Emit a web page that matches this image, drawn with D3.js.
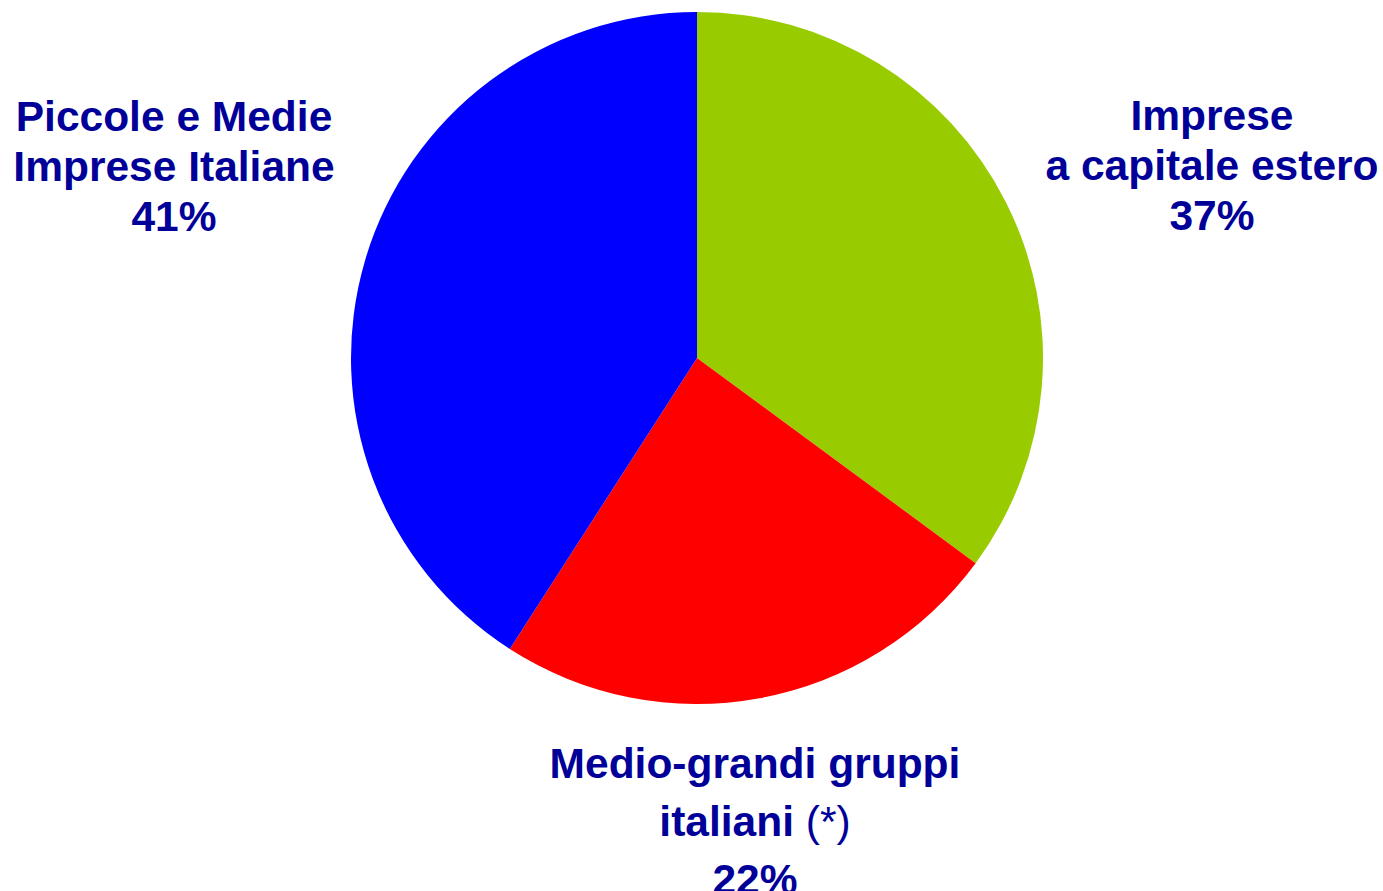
<!DOCTYPE html>
<html>
<head>
<meta charset="utf-8">
<script src="https://cdn.jsdelivr.net/npm/d3@7"></script>
<style>
  html, body { margin: 0; padding: 0; background: #fff; }
  svg { display: block; }
  .lbl { font-family: "Liberation Sans", Arial, sans-serif; font-weight: bold; fill: #000099; }
</style>
</head>
<body>
<div class="graph"></div>
<script>
const w = 1383;
const h = 891;

// slice data, clockwise from 12 o'clock
const categories = ["Imprese a capitale estero", "Medio-grandi gruppi italiani (*)", "Piccole e Medie Imprese Italiane"];
const shares = [35.1, 24.0, 40.9];
const pctLabels = ["37%", "22%", "41%"];
const labelLines = [
  ["Imprese", "a capitale estero"],
  ["Medio-grandi gruppi", "italiani (*)"],
  ["Piccole e Medie", "Imprese Italiane"]
];
const colors = ["#99cc00", "#ff0000", "#0000ff"];

const cx = 697, cy = 358, r = 346;

const canvas = d3.select(".graph")
                 .append("svg")
                 .attr("width", w)
                 .attr("height", h);

const pie = d3.pie().sort(null).value(d => d);
const arc = d3.arc().innerRadius(0).outerRadius(r);

canvas.append("g")
      .attr("transform", `translate(${cx}, ${cy})`)
      .selectAll("path")
      .data(pie(shares))
      .enter()
      .append("path")
      .attr("d", arc)
      .attr("fill", (d, i) => colors[i]);

// label placement: centre x, first baseline, line step
const labelPos = [
  {x: 1212, y: 130, step: 50},
  {x: 755, y: 778, step: 58},
  {x: 174, y: 131, step: 50}
];

categories.forEach(function(c, i) {
  const p = labelPos[i];
  const t = canvas.append("text")
                  .attr("class", "lbl")
                  .attr("text-anchor", "middle")
                  .attr("font-size", 42.5);
  const lines = labelLines[i].concat([pctLabels[i]]);
  lines.forEach(function(line, j) {
    const ts = t.append("tspan")
                .attr("x", p.x)
                .attr("y", p.y + j * p.step);
    const m = line.match(/^(.*?)(\(\*\))$/);
    if (m) {
      ts.text(m[1]);
      ts.append("tspan").attr("font-weight", "normal").text(m[2]);
    } else {
      ts.text(line);
    }
  });
});
</script>
</body>
</html>
